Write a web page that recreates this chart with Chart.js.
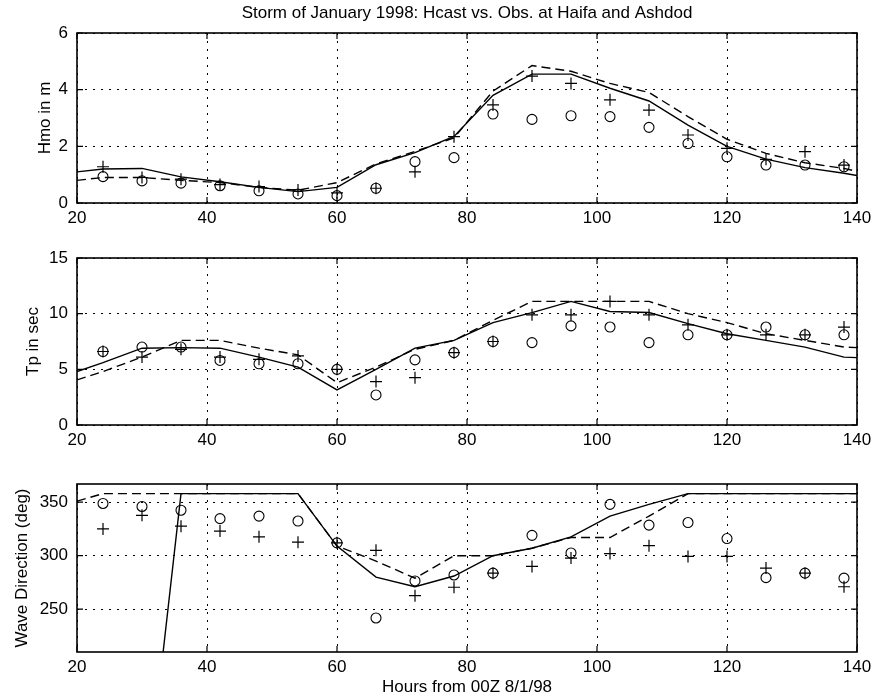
<!DOCTYPE html>
<html><head><meta charset="utf-8">
<script src="https://cdn.jsdelivr.net/npm/chart.js@4/dist/chart.umd.min.js"></script>
<style>
html,body{margin:0;padding:0;background:#fff;}
body{width:875px;height:698px;position:relative;overflow:hidden;}
canvas{position:absolute;left:0;}
</style></head><body>
<canvas id="c1" width="875" height="230" style="top:0px"></canvas>
<canvas id="c2" width="875" height="222" style="top:230px"></canvas>
<canvas id="c3" width="875" height="246" style="top:452px"></canvas>
<script>
// ---- data ----
const titleText = 'Storm of January 1998: Hcast vs. Obs. at Haifa and Ashdod';
const xTitleText = 'Hours from 00Z 8/1/98';
const xTicks = [20, 40, 60, 80, 100, 120, 140];
const hmoTicks = [0, 2, 4, 6];
const tpTicks = [0, 5, 10, 15];
const dirTicks = [250, 300, 350];

const modelHours = [20, 24, 30, 36, 42, 48, 54, 60, 66, 72, 78, 84, 90, 96, 102, 108, 114, 120, 126, 132, 138, 140];
const obsHours = [24, 30, 36, 42, 48, 54, 60, 66, 72, 78, 84, 90, 96, 102, 108, 114, 120, 126, 132, 138];

const hmoSolid  = [1.1, 1.2, 1.22, 0.92, 0.75, 0.55, 0.4, 0.55, 1.35, 1.78, 2.35, 3.8, 4.55, 4.55, 4.05, 3.6, 2.75, 2.0, 1.55, 1.25, 1.05, 0.97];
const hmoDashed = [0.8, 0.9, 0.9, 0.8, 0.72, 0.55, 0.45, 0.72, 1.38, 1.82, 2.3, 3.95, 4.85, 4.65, 4.22, 3.9, 3.05, 2.25, 1.75, 1.42, 1.22, 1.12];
const hmoCircle = [0.93, 0.78, 0.7, 0.61, 0.43, 0.32, 0.26, 0.52, 1.46, 1.6, 3.14, 2.95, 3.08, 3.05, 2.67, 2.1, 1.63, 1.34, 1.34, 1.28];
const hmoPlus   = [1.28, 0.9, 0.84, 0.65, 0.58, 0.46, 0.36, 0.52, 1.1, 2.34, 3.46, 4.48, 4.22, 3.64, 3.28, 2.4, 1.93, 1.54, 1.81, 1.34];

const tpSolid  = [4.8, 5.6, 6.9, 6.95, 6.9, 6.1, 5.2, 3.15, 5.0, 6.9, 7.6, 9.2, 10.1, 11.1, 10.2, 10.1, 9.1, 8.2, 7.6, 7.0, 6.1, 6.05];
const tpDashed = [4.05, 4.8, 6.1, 7.6, 7.6, 6.9, 6.3, 3.8, 5.2, 6.8, 7.6, 9.4, 11.1, 11.1, 11.1, 11.1, 10.0, 9.2, 8.2, 7.6, 7.0, 6.95];
const tpCircle = [6.6, 7.0, 7.0, 5.8, 5.5, 5.5, 5.0, 2.7, 5.85, 6.5, 7.5, 7.4, 8.9, 8.8, 7.4, 8.1, 8.1, 8.8, 8.1, 8.1];
const tpPlus   = [6.6, 6.1, 6.8, 6.1, 5.9, 6.2, 5.0, 3.9, 4.25, 6.5, 7.5, 9.9, 9.9, 11.1, 9.9, 9.0, 8.1, 8.1, 8.1, 8.8];

const dirSolid  = [35, 35, 35, 358, 358, 358, 358, 309, 280, 271, 281, 300, 307, 317.6, 337, 348, 358, 358, 358, 358, 358, 358];
const dirDashed = [351, 358, 358, 358, 358, 358, 358, 309, 295, 279, 300, 300, 307, 317, 317, 337, 358, 358, 358, 358, 358, 358];
const dirCircle = [348.8, 346, 342.5, 334.6, 337, 332.4, 312, 241.8, 276.4, 282, 283.7, 319, 302.5, 348, 328.6, 331, 316, 279.5, 283.7, 279];
const dirPlus   = [325, 337.7, 327.6, 323, 317.6, 312.6, 312, 305, 262.6, 270.5, 283.7, 290, 297.8, 302, 309.4, 299.3, 299.3, 288.4, 283.7, 271];

// ---- drawing ----
const FONT = '"Liberation Sans", Arial, Helvetica, sans-serif';
Chart.defaults.font.family = FONT;
Chart.defaults.color = '#000';

function pts(xs, ys) { return xs.map((x, i) => ({x: x, y: ys[i]})); }

const framePlugin = {
  id: 'frame',
  afterDatasetsDraw(chart) {
    const {ctx, chartArea: a, scales: {x, y}} = chart;
    ctx.save();
    ctx.strokeStyle = '#000';
    ctx.setLineDash([]);
    ctx.lineWidth = 1.6;
    ctx.strokeRect(a.left, a.top, a.right - a.left, a.bottom - a.top);
    ctx.lineWidth = 1.2;
    const L = 6;
    ctx.beginPath();
    x.ticks.forEach(t => {
      const p = x.getPixelForValue(t.value);
      ctx.moveTo(p, a.bottom); ctx.lineTo(p, a.bottom - L);
      ctx.moveTo(p, a.top); ctx.lineTo(p, a.top + L);
    });
    y.ticks.forEach(t => {
      const p = y.getPixelForValue(t.value);
      ctx.moveTo(a.left, p); ctx.lineTo(a.left + L, p);
      ctx.moveTo(a.right, p); ctx.lineTo(a.right - L, p);
    });
    ctx.stroke();
    ctx.restore();
  }
};

function panel(id, o) {
  const datasets = [
    {data: pts(modelHours, o.solid), borderColor: '#000', borderWidth: 1.4, pointRadius: 0, tension: 0, fill: false},
    {data: pts(modelHours, o.dashed), borderColor: '#000', borderWidth: 1.4, borderDash: [9, 5], pointRadius: 0, tension: 0, fill: false},
    {data: pts(obsHours, o.circle), showLine: false, pointStyle: 'circle', pointRadius: 5, pointBorderWidth: 1.1, borderColor: '#000', pointBorderColor: '#000', pointBackgroundColor: 'rgba(0,0,0,0)', backgroundColor: 'rgba(0,0,0,0)'},
    {data: pts(obsHours, o.plus), showLine: false, pointStyle: 'cross', pointRadius: 6, pointBorderWidth: 1.2, borderColor: '#000', pointBorderColor: '#000'}
  ];
  return new Chart(document.getElementById(id), {
    type: 'line',
    data: {datasets: datasets},
    plugins: [framePlugin],
    options: {
      responsive: false, animation: false, devicePixelRatio: 1,
      layout: {padding: {top: o.padTop, right: 18, left: 0, bottom: 0}},
      plugins: {
        legend: {display: false}, tooltip: {enabled: false},
        title: o.title ? {display: true, fullSize: false, text: o.title, color: '#000', font: {size: 17, weight: 'normal', family: FONT, lineHeight: 1.2}, padding: {top: 3, bottom: 9.6}} : {display: false}
      },
      scales: {
        x: {
          type: 'linear', min: 20, max: 140,
          afterBuildTicks: s => { s.ticks = xTicks.map(v => ({value: v})); },
          afterFit: s => { s.height = o.xHeight; s.paddingLeft = 0; s.paddingRight = 0; },
          grid: {color: '#000', lineWidth: 1, drawTicks: false},
          border: {display: false, dash: [2, 6]},
          ticks: {color: '#000', padding: 5, font: {size: 17}, maxRotation: 0, autoSkip: false},
          title: o.xTitle ? {display: true, text: o.xTitle, color: '#000', font: {size: 17}, padding: {top: 0, bottom: 0}} : {display: false}
        },
        y: {
          type: 'linear', min: o.ymin, max: o.ymax,
          afterBuildTicks: s => { s.ticks = o.yTicks.map(v => ({value: v})); },
          afterFit: s => { s.width = 77; s.paddingTop = 0; s.paddingBottom = 0; },
          grid: {color: '#000', lineWidth: 1, drawTicks: false},
          border: {display: false, dash: [2, 6]},
          ticks: {color: '#000', padding: 9, font: {size: 17}, autoSkip: false},
          title: {display: true, text: o.yTitle, color: '#000', font: {size: 17}, padding: {top: o.yTitlePad, bottom: 0}}
        }
      }
    }
  });
}

panel('c1', {solid: hmoSolid, dashed: hmoDashed, circle: hmoCircle, plus: hmoPlus,
  ymin: 0, ymax: 6, yTicks: hmoTicks, yTitle: 'Hmo in m', yTitlePad: 35,
  padTop: 0, xHeight: 27, title: titleText});
panel('c2', {solid: tpSolid, dashed: tpDashed, circle: tpCircle, plus: tpPlus,
  ymin: 0, ymax: 15, yTicks: tpTicks, yTitle: 'Tp in sec', yTitlePad: 23,
  padTop: 28, xHeight: 27});
panel('c3', {solid: dirSolid, dashed: dirDashed, circle: dirCircle, plus: dirPlus,
  ymin: 210, ymax: 367, yTicks: dirTicks, yTitle: 'Wave Direction (deg)', yTitlePad: 12,
  padTop: 32, xHeight: 46, xTitle: xTitleText});
</script>
</body></html>
